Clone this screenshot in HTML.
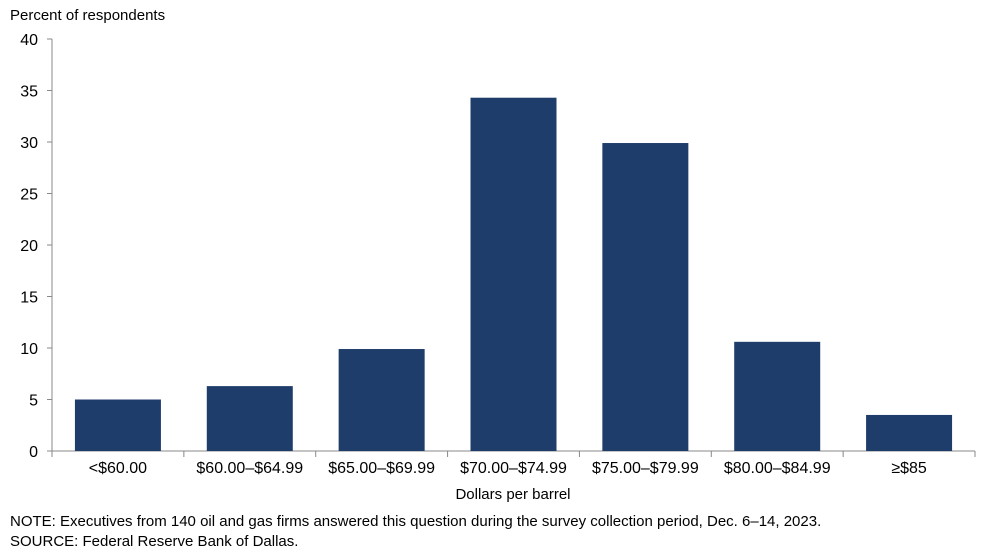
<!DOCTYPE html>
<html><head><meta charset="utf-8"><style>
body{margin:0;background:#fff;font-family:"Liberation Sans",Arial,sans-serif;}
svg text{font-family:"Liberation Sans",Arial,sans-serif;fill:#000;}
</style></head><body>
<svg id="chart" width="997" height="552" viewBox="0 0 997 552" xmlns="http://www.w3.org/2000/svg">
<text x="10" y="20" font-size="15">Percent of respondents</text>
<g id="axes"></g>
<g id="bars"></g>
<text x="513" y="499" font-size="15" text-anchor="middle">Dollars  per barrel</text>
<text x="10" y="526" font-size="15">NOTE:  Executives  from  140  oil  and  gas  firms  answered  this  question  during  the  survey  collection  period,  Dec.  6–14,  2023.</text>
<text x="10" y="546" font-size="15">SOURCE:  Federal  Reserve  Bank  of  Dallas.</text>
</svg>
<script>
const categories = ["<$60.00","$60.00–$64.99","$65.00–$69.99","$70.00–$74.99","$75.00–$79.99","$80.00–$84.99","≥$85"];
const values = [5.0, 6.3, 9.9, 34.3, 29.9, 10.6, 3.5];
const yTicks = [0,5,10,15,20,25,30,35,40];
const NS="http://www.w3.org/2000/svg";
const x0=52,x1=975,y0=451,y1=39,yMax=40;
const band=(x1-x0)/categories.length, barW=86;
const yScale=v=>y0-(v/yMax)*(y0-y1);
const xBand=i=>x0+i*band;
const axes=document.getElementById('axes'), bars=document.getElementById('bars');
function mk(t,a,p){const e=document.createElementNS(NS,t);for(const k in a)e.setAttribute(k,a[k]);p.appendChild(e);return e;}
let ya=mk('line',{x1:x0,y1:y1,x2:x0,y2:y0,stroke:'#888','stroke-width':1},axes);


let xa=mk('line',{x1:x0,y1:y0,x2:x1,y2:y0,stroke:'#888','stroke-width':1},axes);


yTicks.forEach(v=>{
  const y=yScale(v);
  const tk=mk('line',{x1:x0-5,y1:y,x2:x0,y2:y,stroke:'#888'},axes);
  
  
  const t=mk('text',{x:x0-14,y:y+6,'font-size':16,'text-anchor':'end'},axes);
  t.textContent=v;
  
  
});
for(let i=0;i<=categories.length;i++){
  const tk=mk('line',{x1:xBand(i),y1:y0,x2:xBand(i),y2:y0+6,stroke:'#888'},axes);
  
  
}
categories.forEach((c,i)=>{
  const cx=xBand(i)+band/2;
  const r=mk('rect',{x:cx-barW/2,y:yScale(values[i]),width:barW,height:y0-yScale(values[i]),fill:'#1f3d6b'},bars);
  
  
  const t=mk('text',{x:cx,y:y0+22,'font-size':16,'text-anchor':'middle'},axes);
  t.textContent=c;
  
  
});
</script>
</body></html>
